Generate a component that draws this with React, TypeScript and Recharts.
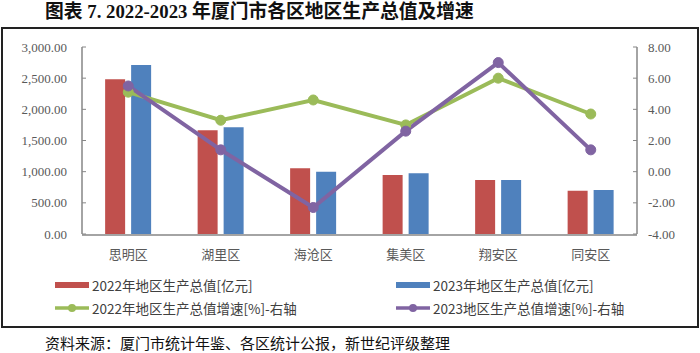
import React from 'react';
import { ComposedChart, Bar, Line, XAxis, YAxis, Legend } from 'recharts';

const categories = ['思明区', '湖里区', '海沧区', '集美区', '翔安区', '同安区'];
const gdp2022 = [2483, 1663, 1054, 946, 866, 695];
const gdp2023 = [2710, 1711, 1000, 973, 866, 706];
const growth2022 = [5.1, 3.3, 4.6, 3.0, 6.0, 3.7];
const growth2023 = [5.5, 1.4, -2.3, 2.6, 7.0, 1.4];

const seriesNames = [
  '2022年地区生产总值[亿元]',
  '2023年地区生产总值[亿元]',
  '2022年地区生产总值增速[%]-右轴',
  '2023地区生产总值增速[%]-右轴',
];
const seriesColors = ['#C0504D', '#4F81BD', '#9BBB59', '#8064A2'];
const leftTicks = [0, 500, 1000, 1500, 2000, 2500, 3000];
const rightTicks = [-4, -2, 0, 2, 4, 6, 8];
const boundaryTicks = [1, 2, 3, 4, 5];

const titleText = '图表 7. 2022-2023 年厦门市各区地区生产总值及增速';
const sourceText = '资料来源：厦门市统计年鉴、各区统计公报，新世纪评级整理';

const data = categories.map((name, i) => ({
  name,
  gdp2022: gdp2022[i],
  gdp2023: gdp2023[i],
  growth2022: growth2022[i],
  growth2023: growth2023[i],
}));

const axisColor = '#868686';
const tickText = { fill: '#595959', fontSize: 13, fontFamily: '"Liberation Serif", "Times New Roman", serif' };

const fmtLeft = (v: number) =>
  v.toLocaleString('en-US', { minimumFractionDigits: 2, maximumFractionDigits: 2 });
const fmtRight = (v: number) => v.toFixed(2);

const slots = [
  { left: 55, top: 0 },
  { left: 396, top: 0 },
  { left: 55, top: 23 },
  { left: 396, top: 23 },
];

const renderLegend = (props: any) => {
  const payload: any[] = props.payload || [];
  return (
    <div style={{ position: 'relative', width: 700, height: 46 }}>
      {seriesNames.map((name, i) => {
        const entry = payload.find((p) => p.value === name);
        const color = (entry && entry.color) || seriesColors[i];
        const isLine = i >= 2;
        return (
          <div
            key={name}
            style={{
              position: 'absolute',
              left: slots[i].left,
              top: slots[i].top,
              height: 23,
              display: 'flex',
              alignItems: 'center',
              whiteSpace: 'nowrap',
            }}
          >
            <svg width={34} height={12} style={{ marginRight: 3 }}>
              {isLine ? (
                <>
                  <line x1={0} y1={6} x2={34} y2={6} stroke={color} strokeWidth={3.5} />
                  <circle cx={17} cy={6} r={4} fill={color} />
                </>
              ) : (
                <rect x={0} y={3} width={34} height={6} fill={color} />
              )}
            </svg>
            <span
              style={{
                fontFamily: '"Noto Sans CJK SC", sans-serif',
                fontSize: 13.5,
                color: '#404040',
              }}
            >
              {name}
            </span>
          </div>
        );
      })}
    </div>
  );
};

export default function App() {
  return (
    <div style={{ position: 'absolute', left: 0, top: 0, width: 700, height: 353, background: '#fff', overflow: 'hidden' }}>
      <div
        style={{
          position: 'absolute',
          left: 45,
          top: 1,
          height: 22,
          lineHeight: '22px',
          fontSize: 18.8,
          fontWeight: 'bold',
          fontFamily: '"Liberation Serif", "Noto Sans CJK SC", serif',
          color: '#111',
          whiteSpace: 'nowrap',
        }}
      >
        {titleText}
      </div>
      <div
        style={{
          position: 'absolute',
          left: 1,
          top: 27,
          width: 694,
          height: 297,
          border: '2px solid #222',
        }}
      />
      <div style={{ position: 'absolute', left: 0, top: 0 }}>
        <ComposedChart
          width={700}
          height={330}
          data={data}
          margin={{ top: 47, right: 0, left: 0, bottom: 11 }}
          barGap={6}
          barCategoryGap="25%"
        >
          <XAxis
            xAxisId="b"
            type="number"
            domain={[0, 6]}
            ticks={boundaryTicks}
            tick={false}
            axisLine={false}
            tickSize={-4}
            height={1}
            stroke={axisColor}
            tickLine={{ stroke: axisColor }}
          />
          <XAxis
            xAxisId="cat"
            dataKey="name"
            height={38}
            tickLine={false}
            axisLine={{ stroke: axisColor, strokeWidth: 1.5 }}
            tickMargin={9}
            interval={0}
            tick={{ fill: '#595959', fontSize: 13, fontFamily: '"Noto Sans CJK SC", sans-serif' }}
          />
          <YAxis
            yAxisId="left"
            width={82}
            domain={[0, 3000]}
            ticks={leftTicks}
            tickFormatter={fmtLeft}
            tickSize={-4}
            tickMargin={19}
            axisLine={{ stroke: axisColor, strokeWidth: 1.5 }}
            tickLine={{ stroke: axisColor }}
            tick={tickText}
            interval={0}
          />
          <YAxis
            yAxisId="right"
            orientation="right"
            width={63}
            domain={[-4, 8]}
            ticks={rightTicks}
            tickFormatter={fmtRight}
            tickSize={-4}
            tickMargin={15}
            axisLine={{ stroke: axisColor, strokeWidth: 1.5 }}
            tickLine={{ stroke: axisColor }}
            tick={tickText}
            interval={0}
          />
          <Legend
            verticalAlign="bottom"
            align="left"
            width={700}
            height={46}
            wrapperStyle={{ left: 0 }}
            content={renderLegend}
          />
          <Bar
            xAxisId="cat"
            yAxisId="left"
            dataKey="gdp2022"
            name={seriesNames[0]}
            fill={seriesColors[0]}
            isAnimationActive={false}
          />
          <Bar
            xAxisId="cat"
            yAxisId="left"
            dataKey="gdp2023"
            name={seriesNames[1]}
            fill={seriesColors[1]}
            isAnimationActive={false}
          />
          <Line
            xAxisId="cat"
            yAxisId="right"
            dataKey="growth2022"
            name={seriesNames[2]}
            stroke={seriesColors[2]}
            strokeWidth={4}
            dot={{ r: 5, fill: seriesColors[2], stroke: seriesColors[2], strokeWidth: 1 }}
            activeDot={false}
            isAnimationActive={false}
          />
          <Line
            xAxisId="cat"
            yAxisId="right"
            dataKey="growth2023"
            name={seriesNames[3]}
            stroke={seriesColors[3]}
            strokeWidth={4}
            dot={{ r: 5, fill: seriesColors[3], stroke: seriesColors[3], strokeWidth: 1 }}
            activeDot={false}
            isAnimationActive={false}
          />
        </ComposedChart>
      </div>
      <div
        style={{
          position: 'absolute',
          left: 45,
          top: 333,
          height: 19,
          lineHeight: '19px',
          fontSize: 15,
          fontFamily: '"Noto Sans CJK SC", sans-serif',
          color: '#111',
          whiteSpace: 'nowrap',
        }}
      >
        {sourceText}
      </div>
    </div>
  );
}
